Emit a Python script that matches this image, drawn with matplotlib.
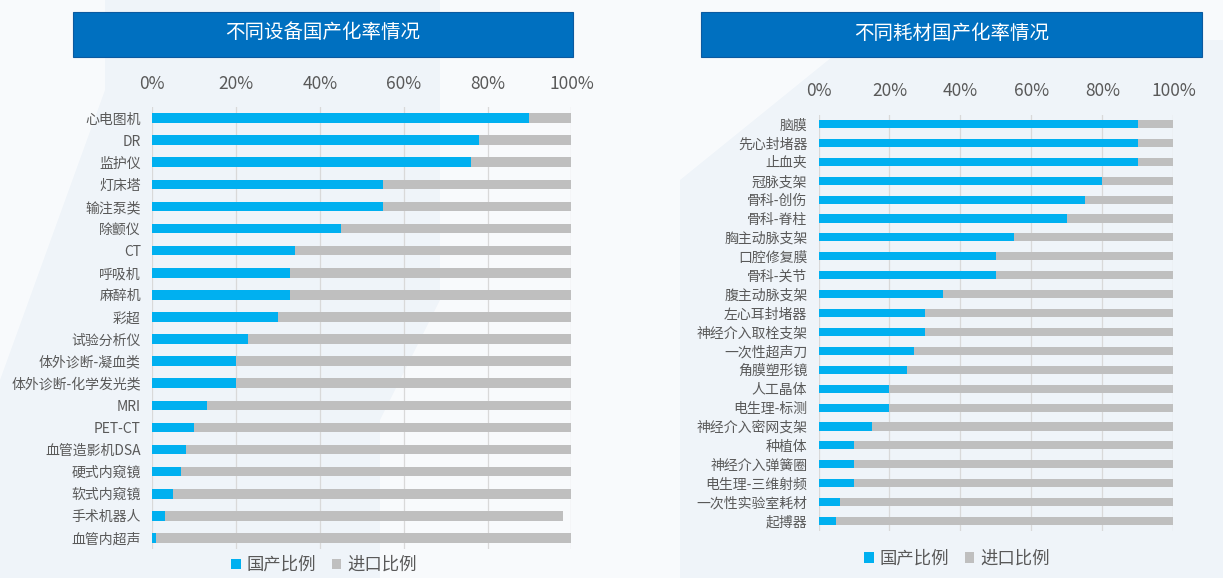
"""
不同设备 / 耗材国产化率情况 —— 双栏堆叠条形图
"""

import numpy as np
import matplotlib.pyplot as plt
from matplotlib.patches import Rectangle, Polygon

plt.rcParams['font.family'] = ['Noto Sans CJK SC', 'DejaVu Sans']

W, H = 1223, 578

# 左图：设备
设备 = ["心电图机", "DR", "监护仪", "灯床塔", "输注泵类", "除颤仪", "CT", "呼吸机",
       "麻醉机", "彩超", "试验分析仪", "体外诊断-凝血类", "体外诊断-化学发光类", "MRI",
       "PET-CT", "血管造影机DSA", "硬式内窥镜", "软式内窥镜", "手术机器人", "血管内超声"]
设备_国产 = [90, 78, 76, 55, 55, 45, 34, 33, 33, 30, 23, 20, 20, 13, 10, 8, 7, 5, 3, 1]
设备_进口 = [10, 22, 24, 45, 45, 55, 66, 67, 67, 70, 77, 80, 80, 87, 90, 92, 93, 95, 95, 99]

# 右图：耗材
耗材 = ["脑膜", "先心封堵器", "止血夹", "冠脉支架", "骨科-创伤", "骨科-脊柱", "胸主动脉支架",
       "口腔修复膜", "骨科-关节", "腹主动脉支架", "左心耳封堵器", "神经介入取栓支架",
       "一次性超声刀", "角膜塑形镜", "人工晶体", "电生理-标测", "神经介入密网支架", "种植体",
       "神经介入弹簧圈", "电生理-三维射频", "一次性实验室耗材", "起搏器"]
耗材_国产 = [90, 90, 90, 80, 75, 70, 55, 50, 50, 35, 30, 30, 27, 25, 20, 20, 15, 10, 10, 10, 6, 5]
耗材_进口 = [10, 10, 10, 20, 25, 30, 45, 50, 50, 65, 70, 70, 73, 75, 80, 80, 85, 90, 90, 90, 94, 95]

TICKS = [0, 20, 40, 60, 80, 100]
BLUE = "#00B0F0"
GREY = "#BFBFBF"
TXT = "#595959"


def px_axes(fig, x0, x1, ytop, ybot):
    ax = fig.add_axes([x0 / W, 1 - ybot / H, (x1 - x0) / W, (ybot - ytop) / H])
    ax.set_zorder(5)
    return ax


def draw_panel(ax, names, dom, imp, xpad, legend_pos):
    y = np.arange(len(names))
    ax.barh(y, dom, height=0.43, color=BLUE, label="国产比例", zorder=3)
    ax.barh(y, imp, left=dom, height=0.43, color=GREY, label="进口比例", zorder=3)
    ax.set_xlim(0, 100)
    ax.set_ylim(len(names) - 0.5, -0.5)
    ax.set_yticks(y)
    ax.set_yticklabels(names, fontsize=10, color=TXT)
    ax.set_xticks(TICKS)
    ax.set_xticklabels([f"{t}%" for t in TICKS], fontsize=12.5, color=TXT)
    ax.xaxis.tick_top()
    ax.tick_params(axis="x", length=0, pad=xpad)
    ax.tick_params(axis="y", length=0, pad=8)
    ax.grid(axis="x", color="#D9D9D9", linewidth=0.9, zorder=0)
    ax.set_facecolor("none")
    for s in ax.spines.values():
        s.set_visible(False)
    ax.legend(loc="center", bbox_to_anchor=legend_pos, ncol=2, frameon=False,
              fontsize=12.5, labelcolor=TXT, handlelength=0.55, handleheight=0.55,
              handletextpad=0.35, columnspacing=0.9)


def title_box(fig, x0, x1, text):
    fig.patches.append(Rectangle((x0 / W, 1 - 57 / H), (x1 - x0) / W, 45 / H,
                                 transform=fig.transFigure, facecolor="#0070C0",
                                 edgecolor="#0B5AA0", linewidth=0.8, zorder=1))
    fig.text((x0 + x1) / 2 / W, 1 - 33 / H, text, ha="center", va="center",
             color="white", fontsize=14, zorder=2)


def main():
    fig = plt.figure(figsize=(W / 100, H / 100), dpi=100, facecolor="#EFF4F9")

    # 背景里的浅色斜块
    for pts in ([(0, 0), (105, 0), (105, 90), (0, 380)],
                [(440, 0), (853, 0), (853, 40), (680, 180), (680, 578), (380, 578), (380, 420), (440, 300)],
                [(1223, 0), (853, 0), (853, 40), (1223, 40)]):
        fig.patches.append(Polygon([(x / W, 1 - y / H) for x, y in pts], closed=True,
                                   transform=fig.transFigure, facecolor="white",
                                   edgecolor="none", alpha=0.6, zorder=-5))

    title_box(fig, 73, 573, "不同设备国产化率情况")
    title_box(fig, 701, 1202, "不同耗材国产化率情况")

    ax1 = px_axes(fig, 152, 571.4, 107, 549)
    draw_panel(ax1, 设备, 设备_国产, 设备_进口, 10, (0.41, -0.036))

    ax2 = px_axes(fig, 818.5, 1173.4, 114.5, 530.5)
    draw_panel(ax2, 耗材, 耗材_国产, 耗材_进口, 10.5, (0.39, -0.068))

    fig.savefig("out.png", dpi=100, facecolor=fig.get_facecolor())


if __name__ == "__main__":
    main()
